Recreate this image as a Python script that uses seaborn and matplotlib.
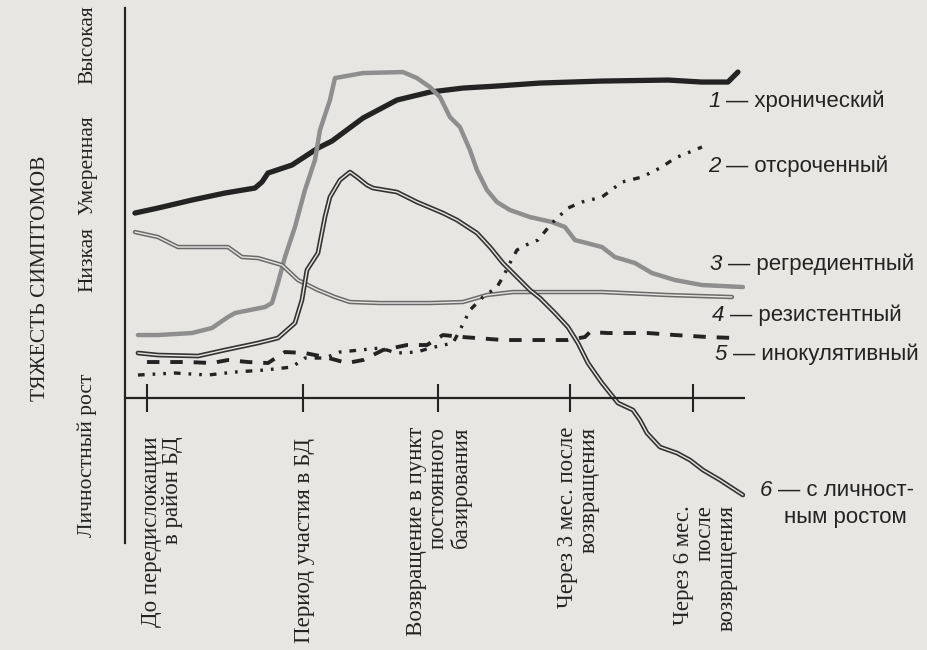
import matplotlib
matplotlib.use("Agg")
import matplotlib.pyplot as plt
import matplotlib.patheffects as pe
import pandas as pd
import seaborn as sns

# stages (x axis)
stages = ["До передислокации\nв район БД",
          "Период участия в БД",
          "Возвращение в пункт\nпостоянного\nбазирования",
          "Через 3 мес. после\nвозвращения",
          "Через 6 мес.\nпосле\nвозвращения"]
stage_pos = [2.2, 17.8, 31.3, 44.5, 56.8]

# severity levels (y axis)
levels = ["Личностный рост", "Низкая", "Умеренная", "Высокая"]
level_pos = [-5.7, 13.9, 23.3, 35.3]

# 1 - chronic
chronic_x = [1.0, 3.3, 6.7, 10.0, 13.0, 13.7, 14.3, 16.7, 19.3, 20.7, 23.8, 27.2,
             30.5, 33.8, 37.2, 41.5, 47.7, 54.3, 57.7, 60.3, 61.3]
chronic_y = [18.5, 19.0, 19.8, 20.5, 21.0, 21.6, 22.5, 23.3, 25.0, 25.7, 28.0, 29.8,
             30.6, 31.0, 31.2, 31.5, 31.7, 31.8, 31.6, 31.6, 32.6]

# 2 - delayed
delayed_x = [1.3, 5.0, 8.3, 11.0, 14.0, 16.7, 18.0, 20.0, 21.5, 25.5, 27.2, 29.2,
             30.5, 32.8, 33.5, 34.5, 35.8, 37.2, 37.8, 38.5, 39.2, 40.5, 41.3,
             42.7, 44.3, 45.7, 47.7, 49.7, 51.7, 53.7, 55.0, 57.7]
delayed_y = [2.3, 2.5, 2.3, 2.6, 2.8, 3.1, 4.0, 4.0, 4.6, 5.0, 4.5, 4.6,
             5.0, 5.5, 6.8, 8.8, 10.1, 11.1, 12.1, 13.5, 14.8, 15.5, 15.8,
             17.5, 19.0, 19.6, 20.1, 21.6, 22.1, 23.1, 24.0, 25.1]

# 3 - regredient
regred_x = [1.3, 3.3, 6.7, 8.7, 10.3, 11.0, 14.0, 14.7, 15.3, 16.0, 17.0, 18.0,
            19.0, 19.5, 20.0, 20.5, 21.0, 23.8, 27.8, 29.2, 30.5, 31.5, 32.5,
            33.5, 34.5, 35.2, 36.2, 37.2, 38.5, 40.5, 42.7, 44.0, 45.0, 47.7,
            49.0, 51.0, 52.7, 55.0, 57.7, 61.8]
regred_y = [6.3, 6.3, 6.5, 7.0, 8.1, 8.5, 9.1, 9.5, 11.5, 14.1, 17.1, 20.8,
            23.8, 26.8, 28.3, 29.8, 32.0, 32.5, 32.6, 32.0, 31.1, 30.1, 28.1,
            27.1, 24.8, 22.8, 20.8, 19.6, 18.8, 18.1, 17.6, 17.1, 15.8, 15.1,
            14.1, 13.5, 12.5, 11.8, 11.3, 11.1]

# 4 - resistant
resist_x = [1.0, 3.3, 5.3, 10.3, 11.0, 11.7, 13.3, 15.7, 17.3, 19.3, 21.0, 22.5,
            25.5, 30.5, 33.8, 36.2, 38.8, 47.7, 54.3, 60.7]
resist_y = [16.6, 16.1, 15.1, 15.1, 14.6, 14.1, 14.0, 13.3, 11.8, 10.8, 10.1, 9.6,
            9.5, 9.5, 9.6, 10.3, 10.6, 10.6, 10.3, 10.1]

# 5 - inoculative
inocul_x = [2.2, 6.3, 8.7, 10.3, 12.3, 14.3, 16.0, 18.0, 20.0, 22.2, 23.8, 25.8,
            28.2, 30.2, 31.8, 33.8, 37.8, 44.3, 46.0, 46.5, 48.3, 52.3, 55.0,
            58.3, 61.0]
inocul_y = [3.6, 3.6, 3.5, 3.8, 3.6, 3.5, 4.6, 4.5, 4.1, 3.5, 3.8, 4.8,
            5.3, 5.3, 6.3, 6.1, 5.8, 5.8, 6.1, 6.6, 6.5, 6.5, 6.3,
            6.1, 6.0]

# 6 - personal growth
growth_x = [1.3, 3.3, 7.3, 10.0, 13.3, 15.3, 17.0, 17.7, 18.2, 19.3, 20.0, 20.5,
            21.5, 22.5, 23.2, 24.2, 24.8, 27.2, 29.2, 31.8, 33.2, 35.2, 36.5,
            37.8, 39.2, 40.5, 41.5, 43.0, 44.3, 45.3, 46.3, 47.7, 49.3, 50.8,
            51.5, 52.2, 53.5, 55.2, 56.5, 57.8, 59.5, 61.8]
growth_y = [4.5, 4.3, 4.2, 4.8, 5.5, 6.0, 7.5, 9.8, 12.8, 14.5, 18.1, 20.1,
            21.8, 22.6, 22.1, 21.3, 21.0, 20.6, 19.6, 18.5, 17.8, 16.5, 15.1,
            13.5, 12.1, 10.8, 10.0, 8.5, 7.1, 5.5, 3.5, 1.5, -0.5, -1.2,
            -2.2, -3.5, -4.9, -5.5, -6.2, -7.2, -8.2, -9.7]

names = ["хронический", "отсроченный", "регредиентный", "резистентный",
         "инокулятивный", "с личност-"]
name6_tail = "ным ростом"

paper = "#e7e6e3"
ink = "#232323"

sns.set_style("white")
plt.rcParams["font.family"] = ["Liberation Serif", "DejaVu Serif"]

fig = plt.figure(figsize=(9.27, 6.5), dpi=100, facecolor=paper)
ax = fig.add_axes([0.1348, 0.1646, 0.6688, 0.823])
ax.set_facecolor(paper)

def curve(x, y):
    return pd.DataFrame({"x": x, "y": y})

kw = dict(x="x", y="y", sort=False, estimator=None, ax=ax, legend=False)

# 1 chronic: thick black
sns.lineplot(data=curve(chronic_x, chronic_y), color=ink, lw=3.8,
             solid_capstyle="round", **kw)
# 3 regredient: thick grey
sns.lineplot(data=curve(regred_x, regred_y), color="#8e8e8e", lw=3.2,
             solid_capstyle="round", **kw)
# 4 resistant: double grey line
sns.lineplot(data=curve(resist_x, resist_y), color=paper, lw=1.0,
             path_effects=[pe.Stroke(linewidth=3.2, foreground="#6a6a6a"), pe.Normal()],
             **kw)
# 6 personal growth: double dark line
sns.lineplot(data=curve(growth_x, growth_y), color=paper, lw=1.0,
             path_effects=[pe.Stroke(linewidth=3.4, foreground="#333333"), pe.Normal()],
             **kw)
# 5 inoculative: dashed
sns.lineplot(data=curve(inocul_x, inocul_y), color=ink, lw=2.8,
             linestyle=(0, (3.2, 2.8)), **kw)
# 2 delayed: dotted with dashes
sns.lineplot(data=curve(delayed_x, delayed_y), color=ink, lw=2.4,
             linestyle=(0, (2.0, 2.4, 0.8, 2.4, 0.8, 2.4)), **kw)

# axes
ax.set_xlim(0, 62)
ax.set_ylim(-14.5, 39)
for side in ["top", "right", "bottom"]:
    ax.spines[side].set_visible(False)
ax.spines["left"].set_color(ink)
ax.spines["left"].set_linewidth(1.6)
ax.axhline(0, color=ink, lw=1.6)
ax.vlines(stage_pos, -1.4, 1.4, color=ink, lw=1.5)

ax.set_xticks([])
ax.set_xlabel("")
ax.set_ylabel("")
ax.set_yticks(level_pos, levels)
ax.tick_params(axis="y", length=0, pad=20, labelsize=15.5, labelcolor=ink)
for t in ax.get_yticklabels():
    t.set_rotation(90)
    t.set_va("center")

ax.text(-0.137, 0.495, "ТЯЖЕСТЬ СИМПТОМОВ", transform=ax.transAxes, rotation=90,
        ha="center", va="center", fontsize=15.5, color=ink)

# stage labels under the axis
label_dx = [1.5, 0.2, 0.1, 0.8, 1.2]
label_top = [-3.8, -4.0, -2.9, -2.9, -10.7]
for pos, dx, top, lab in zip(stage_pos, label_dx, label_top, stages):
    ax.text(pos + dx, top, lab, rotation=90, ha="center", va="top",
            multialignment="right", linespacing=1.05, fontsize=16.5, color=ink,
            clip_on=False)

# curve names: italic number, then the name
sans = ["Liberation Sans", "DejaVu Sans"]
name_x = [58.3, 58.3, 58.5, 58.7, 59.0, 63.5]
name_y = [29.7, 23.2, 13.4, 8.3, 4.4, -9.2]
for i, (nx, ny, nm) in enumerate(zip(name_x, name_y, names)):
    ax.text(nx, ny, str(i + 1), ha="left", va="center", fontsize=16,
            style="italic", color=ink, family=sans, clip_on=False)
    ax.annotate("— " + nm, xy=(nx, ny), xytext=(13, 0), textcoords="offset points",
                ha="left", va="center", fontsize=16, color=ink, family=sans,
                annotation_clip=False)
ax.text(72.0, -11.9, name6_tail, ha="center", va="center", fontsize=16,
        color=ink, family=sans, clip_on=False)

fig.savefig("out.png", dpi=100, facecolor=paper)
